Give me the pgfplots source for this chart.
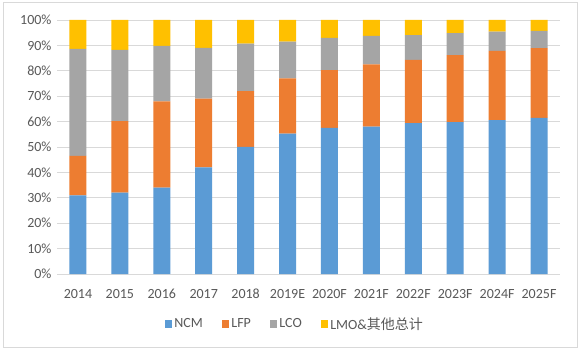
\documentclass[border=0pt]{standalone}
\usepackage{pgfplots}
\pgfplotsset{compat=1.18}
\usepackage{fontspec}
\setmainfont{Carlito}
\newfontfamily\cjk{Noto Sans CJK SC}
\definecolor{ncm}{HTML}{5B9BD5}
\definecolor{lfp}{HTML}{ED7D31}
\definecolor{lco}{HTML}{A5A5A5}
\definecolor{lmo}{HTML}{FFC000}
\definecolor{gridc}{HTML}{D9D9D9}
\definecolor{txt}{HTML}{595959}
\begin{document}
\begin{tikzpicture}[x=1pt,y=1pt]
\fill[white] (0,0) rectangle (580,350);
\draw[gridc, line width=0.8pt] (3,3) rectangle (577,348);
\begin{axis}[
  at={(57pt,76pt)}, anchor=south west,
  scale only axis, width=503pt, height=254pt,
  ybar stacked, bar width=17pt,
  xmin=-0.5, xmax=11.5, ymin=0, ymax=100,
  xtick=data,
  xticklabels={2014,2015,2016,2017,2018,2019E,2020F,2021F,2022F,2023F,2024F,2025F},
  ytick={0,10,...,100},
  yticklabel={\pgfmathprintnumber{\tick}\%},
  /pgf/number format/assume math mode=true,
  ymajorgrids, grid style={gridc, line width=0.8pt},
  axis x line*=bottom, axis y line*=left,
  x axis line style={gridc, line width=0.8pt},
  y axis line style={draw=none},
  major tick length=0pt,
  tick label style={font=\fontsize{14}{16}\selectfont, text=txt},
  xticklabel style={yshift=-11pt, text height=10pt, text depth=0pt},
  yticklabel style={xshift=-2pt},
  legend columns=4,
  legend style={draw=none, at={(0.473,-0.197)}, anchor=center,
    font=\fontsize{14}{16}\selectfont, text=txt,
    /tikz/every odd column/.append style={inner xsep=0pt},
    /tikz/every even column/.append style={column sep=17pt, inner xsep=3.5pt}},
  legend image code/.code={\fill[#1] (0pt,-3.75pt) rectangle (7.5pt,3.75pt);},
]
\addplot[fill=ncm, draw=none] coordinates {(0,31) (1,32) (2,34) (3,42) (4,50) (5,55.3) (6,57.5) (7,58) (8,59.4) (9,59.8) (10,60.6) (11,61.5)};
\addplot[fill=lfp, draw=none] coordinates {(0,15.5) (1,28.2) (2,34) (3,27) (4,22) (5,21.7) (6,22.8) (7,24.5) (8,24.9) (9,26.4) (10,27.2) (11,27.4)};
\addplot[fill=lco, draw=none] coordinates {(0,42.1) (1,28) (2,21.8) (3,20) (4,18.7) (5,14.5) (6,12.7) (7,11.2) (8,9.7) (9,8.6) (10,7.6) (11,6.8)};
\addplot[fill=lmo, draw=none] coordinates {(0,11.4) (1,11.8) (2,10.2) (3,11) (4,9.3) (5,8.5) (6,7) (7,6.3) (8,6) (9,5.2) (10,4.6) (11,4.3)};
\legend{NCM,LFP,LCO,LMO\&{\cjk 其他总计}}
\end{axis}
\end{tikzpicture}
\end{document}
